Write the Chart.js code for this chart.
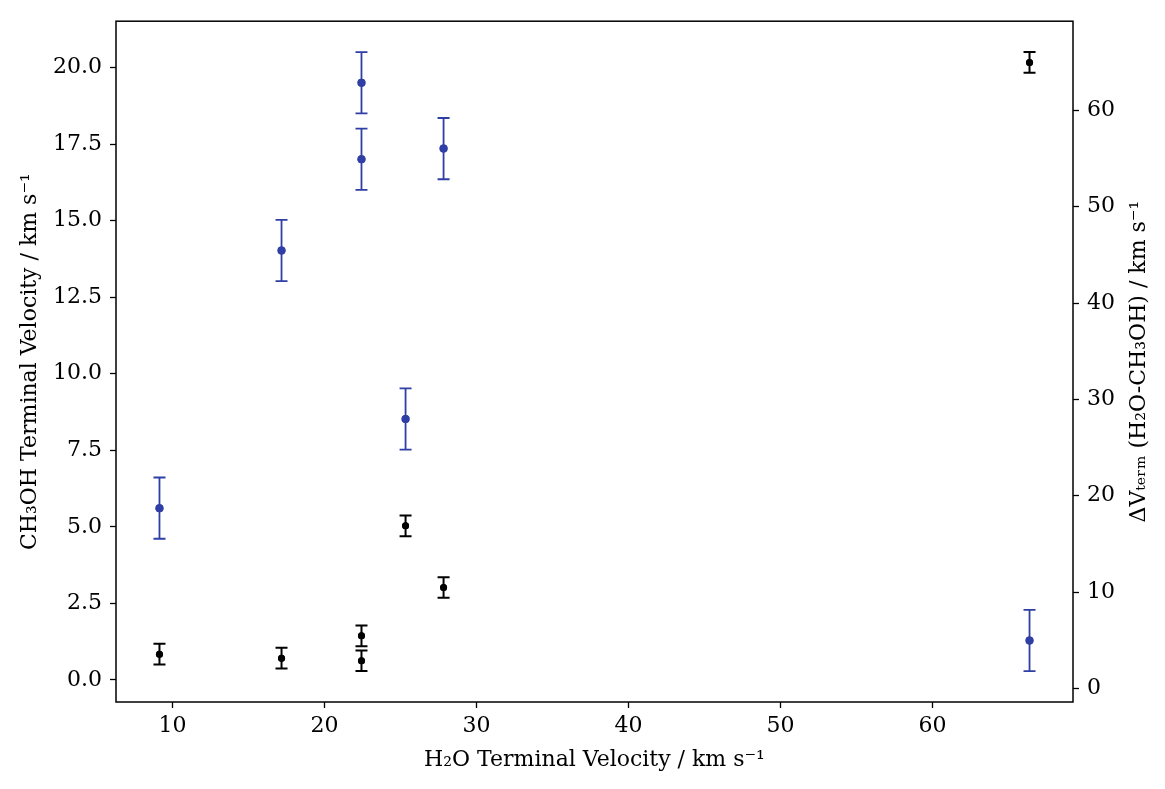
<!DOCTYPE html>
<html><head><meta charset="utf-8">
<script src="https://cdn.jsdelivr.net/npm/chart.js@4.4.0/dist/chart.umd.min.js"></script>
<style>html,body{margin:0;padding:0;background:#fff}#wrap{width:1165px;height:789px}</style>
</head><body><div id="wrap"><canvas id="c" width="1165" height="789"></canvas></div>
<script>
// ---- data ----
const h2oVel   = [9.14, 17.17, 22.43, 22.43, 25.33, 27.83, 66.38];
const ch3ohVel = [5.61, 14.02, 19.50, 17.00, 8.52, 17.35, 1.29];
const ch3ohErr = [1.0, 1.0, 1.0, 1.0, 1.0, 1.0, 1.0];
const deltaV   = [3.55, 3.13, 2.86, 5.45, 16.87, 10.47, 64.98];
const deltaErr = [1.07, 1.07, 1.07, 1.07, 1.07, 1.07, 1.07];
const xTicks = [10, 20, 30, 40, 50, 60];
const leftTicks = [0, 2.5, 5, 7.5, 10, 12.5, 15, 17.5, 20];
const leftTickLabels = ['0.0','2.5','5.0','7.5','10.0','12.5','15.0','17.5','20.0'];
const rightTicks = [0, 10, 20, 30, 40, 50, 60];
const xTitle = 'H\u2082O Terminal Velocity / km s\u207B\u00B9';
const leftTitle = 'CH\u2083OH Terminal Velocity / km s\u207B\u00B9';
const rightTitle = '\u0394V\u209C\u2091\u1D63\u2098 (H\u2082O-CH\u2083OH) / km s\u207B\u00B9';

const BLUE = '#2f3fa5';
const FONT = 'DejaVu Serif';

const errorBars = {
  id: 'errorBars',
  afterDatasetsDraw(chart) {
    const ctx = chart.ctx;
    const xs = chart.scales.x;
    chart.data.datasets.forEach((ds, i) => {
      const ys = chart.scales[ds.yAxisID];
      ctx.save();
      ctx.strokeStyle = ds.errColor;
      ctx.lineWidth = ds.errWidth;
      ds.data.forEach((p, j) => {
        const e = ds.errors[j];
        const px = xs.getPixelForValue(p.x);
        const y1 = ys.getPixelForValue(p.y - e);
        const y2 = ys.getPixelForValue(p.y + e);
        ctx.beginPath();
        ctx.moveTo(px, y1); ctx.lineTo(px, y2);
        ctx.moveTo(px - 6, y1); ctx.lineTo(px + 6, y1);
        ctx.moveTo(px - 6, y2); ctx.lineTo(px + 6, y2);
        ctx.stroke();
      });
      ctx.restore();
      // redraw points on top
      chart.getDatasetMeta(i).data.forEach(el => el.draw(ctx));
    });
  }
};

const frame = {
  id: 'frame',
  afterDraw(chart) {
    const {ctx, chartArea: a} = chart;
    ctx.save();
    ctx.strokeStyle = '#000';
    ctx.lineWidth = 1.5;
    ctx.strokeRect(a.left, a.top, a.right - a.left, a.bottom - a.top);
    // right axis title, reading bottom-to-top
    const t = chart.options.scales.y2.title;
    ctx.fillStyle = '#000';
    ctx.font = '22px "' + FONT + '"';
    ctx.textAlign = 'center';
    ctx.textBaseline = 'middle';
    ctx.translate(1139, (a.top + a.bottom) / 2);
    ctx.rotate(-Math.PI / 2);
    ctx.fillText(t.text, 0, 0);
    ctx.restore();
  }
};

const tickFont = {family: FONT, size: 22};
const gridOpts = {display: true, drawOnChartArea: false, drawTicks: true, tickLength: 6, tickColor: '#000', tickWidth: 1.3};

new Chart(document.getElementById('c'), {
  type: 'scatter',
  data: {
    datasets: [
      {
        label: 'CH3OH', yAxisID: 'y',
        data: h2oVel.map((x, i) => ({x, y: ch3ohVel[i]})),
        errors: ch3ohErr, errColor: BLUE, errWidth: 1.8,
        pointRadius: 4, pointBackgroundColor: BLUE, pointBorderColor: BLUE, pointBorderWidth: 0
      },
      {
        label: 'dV', yAxisID: 'y2',
        data: h2oVel.map((x, i) => ({x, y: deltaV[i]})),
        errors: deltaErr, errColor: '#000', errWidth: 2,
        pointRadius: 3.5, pointBackgroundColor: '#000', pointBorderColor: '#000', pointBorderWidth: 0
      }
    ]
  },
  options: {
    responsive: false, animation: false, devicePixelRatio: 1,
    layout: {padding: {top: 21, left: 0, right: 0, bottom: 0}},
    plugins: {legend: {display: false}, tooltip: {enabled: false}},
    scales: {
      x: {
        type: 'linear', position: 'bottom', min: 6.28, max: 69.24,
        afterBuildTicks: s => { s.ticks = xTicks.map(v => ({value: v})); },
        afterFit: s => { s.height = 87; },
        ticks: {font: tickFont, color: '#000', padding: 5, callback: v => String(v)},
        grid: gridOpts, border: {display: false},
        title: {display: true, text: xTitle, font: {family: FONT, size: 22}, color: '#000', padding: {top: 0, bottom: 16}}
      },
      y: {
        type: 'linear', position: 'left', min: -0.72, max: 21.51,
        afterBuildTicks: s => { s.ticks = leftTicks.map(v => ({value: v})); },
        afterFit: s => { s.width = 116; },
        ticks: {font: tickFont, color: '#000', padding: 8, callback: (v) => leftTickLabels[leftTicks.indexOf(v)]},
        grid: gridOpts, border: {display: false},
        title: {display: true, text: leftTitle, font: {family: FONT, size: 22}, color: '#000', padding: {top: 17, bottom: 0}}
      },
      y2: {
        type: 'linear', position: 'right', min: -1.42, max: 69.26,
        afterBuildTicks: s => { s.ticks = rightTicks.map(v => ({value: v})); },
        afterFit: s => { s.width = 92; },
        ticks: {font: tickFont, color: '#000', padding: 8, callback: v => String(v)},
        grid: gridOpts, border: {display: false},
        title: {display: false, text: rightTitle}
      }
    }
  },
  plugins: [errorBars, frame]
});
</script>
</body></html>
